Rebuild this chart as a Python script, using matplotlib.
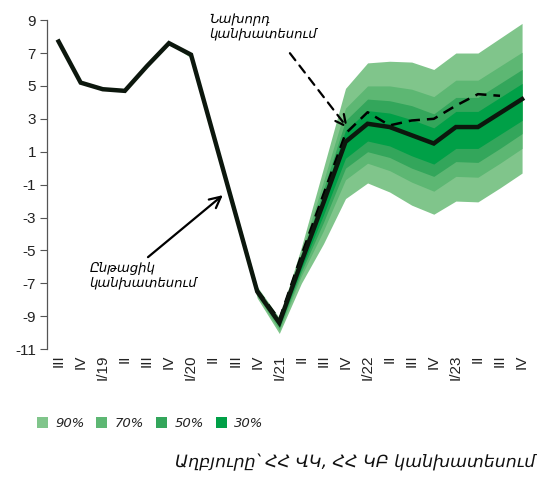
import matplotlib
matplotlib.use("Agg")
import matplotlib.pyplot as plt
import numpy as np

plt.rcParams["font.family"] = ["Liberation Sans", "DejaVu Sans"]
plt.rcParams["axes.unicode_minus"] = False

quarters = ["III", "IV", "I/19", "II", "III", "IV", "I/20", "II", "III", "IV",
            "I/21", "II", "III", "IV", "I/22", "II", "III", "IV", "I/23", "II", "III", "IV"]

current = [7.7, 5.2, 4.8, 4.7, 6.2, 7.6, 6.9, 2.1, -2.7, -7.5, -9.4,
           -5.7, -2.1, 1.6, 2.7, 2.5, 2.0, 1.5, 2.5, 2.5, 3.35, 4.2]

# previous forecast, from IV/20 to III/23
prev_start = 9
previous = [-7.4, -9.2, -5.3, -1.6, 2.1, 3.4, 2.6, 2.9, 3.0, 3.8, 4.5, 4.4]

# fan bands, from IV/19 to IV/23
fan_start = 5
band_90_hi = [7.6, 7.0, 2.3, -2.4, -7.2, -9.1, -4.8, 0.0, 4.85, 6.4, 6.5, 6.45, 6.0, 7.0, 7.0, 7.9, 8.8]
band_90_lo = [7.6, 6.7, 1.9, -3.0, -7.9, -10.05, -7.0, -4.6, -1.85, -0.9, -1.45, -2.25, -2.8, -2.0, -2.05, -1.2, -0.3]
band_70_hi = [7.6, 6.97, 2.25, -2.5, -7.3, -9.2, -5.1, -0.8, 3.65, 5.0, 5.0, 4.8, 4.35, 5.35, 5.35, 6.2, 7.05]
band_70_lo = [7.6, 6.78, 2.0, -2.9, -7.75, -9.85, -6.55, -3.8, -0.7, 0.3, -0.15, -0.85, -1.4, -0.5, -0.55, 0.3, 1.2]
band_50_hi = [7.6, 6.95, 2.2, -2.55, -7.4, -9.3, -5.35, -1.3, 2.9, 4.2, 4.1, 3.8, 3.3, 4.3, 4.3, 5.15, 6.0]
band_50_lo = [7.6, 6.82, 2.0, -2.85, -7.65, -9.7, -6.3, -3.3, 0.0, 1.0, 0.65, 0.0, -0.5, 0.4, 0.35, 1.2, 2.1]
band_30_hi = [7.6, 6.92, 2.15, -2.6, -7.45, -9.35, -5.5, -1.7, 2.3, 3.5, 3.35, 2.95, 2.45, 3.45, 3.45, 4.3, 5.15]
band_30_lo = [7.6, 6.87, 2.05, -2.8, -7.55, -9.6, -6.1, -2.85, 0.6, 1.65, 1.35, 0.75, 0.25, 1.2, 1.2, 2.05, 2.9]

bands = [
    ("90%", band_90_lo, band_90_hi, "#80c58b"),
    ("70%", band_70_lo, band_70_hi, "#5db773"),
    ("50%", band_50_lo, band_50_hi, "#33a65b"),
    ("30%", band_30_lo, band_30_hi, "#00a047"),
]

fig = plt.figure(figsize=(5.48, 4.91), dpi=100)
ax = fig.add_axes([0.0858, 0.289, 0.883, 0.670])

x = np.arange(len(quarters))
x_fan = x[fan_start:]
handles = []
for label, lo, hi, color in bands:
    h = ax.fill_between(x_fan, lo, hi, color=color, lw=0, label=label)
    handles.append(h)

x_prev = x[prev_start:prev_start + len(previous)]
ax.plot(x_prev, previous, color="black", lw=1.8, ls=(0, (4.5, 2.8)))
ax.plot(x, current, color="#0c170d", lw=3.2, solid_joinstyle="miter")

ax.set_xlim(-0.525, 21.4)
ax.set_ylim(-11, 9)
ax.set_yticks(np.arange(-11, 10, 2))
ax.set_xticks(x)
ax.set_xticklabels(quarters, rotation=90, fontsize=11, color="#222222")
ax.tick_params(axis="x", length=0, pad=4)
ax.tick_params(axis="y", labelsize=11, length=5, color="#555555", labelcolor="#222222", pad=3)
for s in ["top", "right", "bottom"]:
    ax.spines[s].set_visible(False)
ax.spines["left"].set_color("#555555")
ax.spines["left"].set_linewidth(0.9)

arm = ["DejaVu Sans"]
ax.text(6.85, 9.45, "Նախորդ\nկանխատեսում", fontsize=9.5, style="italic",
        family=arm, ha="left", va="top", linespacing=1.15, clip_on=False)
ax.annotate("", xy=(13.1, 2.43), xytext=(10.48, 6.99),
            arrowprops=dict(arrowstyle="->,head_length=0.8,head_width=0.4",
                            color="black", lw=1.6, ls=(0, (4, 3)), shrinkA=0, shrinkB=0))
ax.text(1.4, -5.7, "Ընթացիկ\nկանխատեսում", fontsize=9.5, style="italic",
        family=arm, ha="left", va="top", linespacing=1.15)
ax.annotate("", xy=(7.44, -1.64), xytext=(4.05, -5.41),
            arrowprops=dict(arrowstyle="->,head_length=0.8,head_width=0.4",
                            color="black", lw=1.6, shrinkA=0, shrinkB=0))

leg = fig.legend(handles=handles, loc="lower left", bbox_to_anchor=(0.045, 0.1),
                 ncol=4, frameon=False, handlelength=0.85, handleheight=0.85,
                 handletextpad=0.55, columnspacing=0.9,
                 prop=dict(family=arm, style="italic", size=9.5))
for t in leg.get_texts():
    t.set_color("#222222")

fig.text(0.977, 0.04, "Աղբյուրը՝ ՀՀ ՎԿ, ՀՀ ԿԲ կանխատեսում", ha="right", va="bottom",
         fontsize=12.5, style="italic", family=arm, color="#111111")

fig.savefig("out.png", dpi=100)
